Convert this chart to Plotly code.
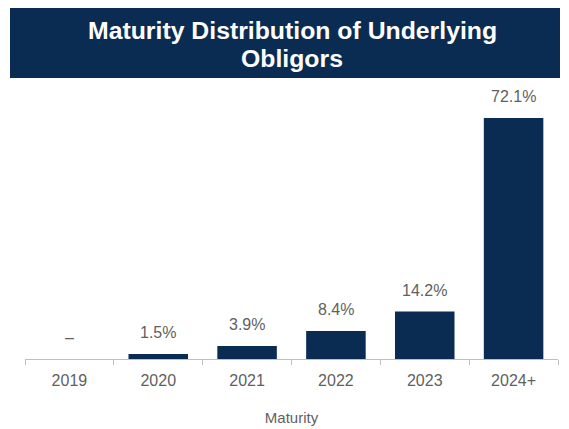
import plotly.graph_objects as go

categories = ["2019", "2020", "2021", "2022", "2023", "2024+"]
values = [0.0, 1.5, 3.9, 8.4, 14.2, 72.1]
labels = ["–", "1.5%", "3.9%", "8.4%", "14.2%", "72.1%"]
title_lines = ["Maturity Distribution of Underlying", "Obligors"]
x_title = "Maturity"

NAVY = "#0b2c52"
GRAY = "#5f5f5f"

fig = go.Figure()
fig.add_trace(go.Bar(x=categories, y=values, marker=dict(color=NAVY, line=dict(width=0)),
                     hoverinfo="skip"))

for i, (v, t) in enumerate(zip(values, labels)):
    fig.add_annotation(x=i, y=v, xref="x", yref="y", text=t, showarrow=False, yanchor="bottom",
                       yshift=11, font=dict(family="Liberation Sans, Arial", size=16, color=GRAY))

L, R, T, B = 25, 11, 95, 70
W, H = 569, 429
pw, ph = W - L - R, H - T - B

def px_x(x):
    return (x - L) / pw

def px_y(y):
    return (H - B - y) / ph

fig.add_shape(type="rect", xref="paper", yref="paper",
              x0=px_x(10), x1=px_x(560), y0=px_y(78), y1=px_y(8),
              fillcolor=NAVY, line=dict(width=0), layer="below")
for line, ypix in zip(title_lines, [30, 58]):
    fig.add_annotation(xref="paper", yref="paper", x=px_x(292), y=px_y(ypix),
                       text="<b>" + line + "</b>", showarrow=False,
                       xanchor="center", yanchor="middle", align="center",
                       font=dict(family="Liberation Sans, Arial", size=24.8, color="white"))

fig.update_layout(
    width=W, height=H,
    margin=dict(l=L, r=R, t=T, b=B, autoexpand=False),
    paper_bgcolor="white", plot_bgcolor="white",
    bargap=0.33,
    showlegend=False,
    xaxis=dict(
        type="category", categoryorder="array", categoryarray=categories,
        range=[-0.5, len(categories) - 0.5],
        automargin=False,
        showline=True, linecolor="#bfbfbf", linewidth=1,
        ticks="outside", tickson="boundaries", ticklen=5, tickcolor="#bfbfbf",
        ticklabelstandoff=7,
        tickfont=dict(family="Liberation Sans, Arial", size=16, color=GRAY),
        title=dict(text=x_title, standoff=24,
                   font=dict(family="Liberation Sans, Arial", size=15, color=GRAY)),
        showgrid=False, fixedrange=True,
    ),
    yaxis=dict(visible=False, range=[0, 79], showgrid=False, zeroline=False, fixedrange=True),
)

fig.write_html("out.html")
